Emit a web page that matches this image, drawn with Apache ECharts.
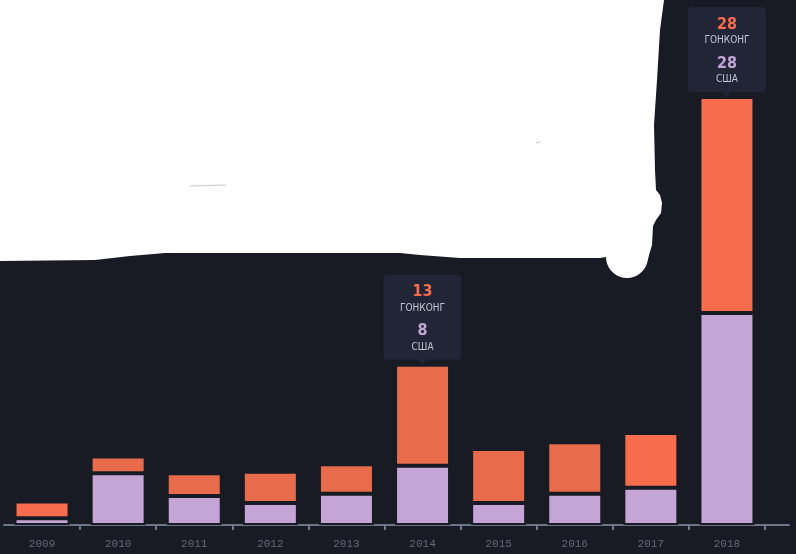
<!DOCTYPE html>
<html>
<head>
<meta charset="utf-8">
<script src="https://cdn.jsdelivr.net/npm/echarts@6/dist/echarts.min.js"></script>
<style>
html,body{margin:0;padding:0;background:#181b24;}
#c{width:796px;height:554px;}
</style>
</head>
<body>
<div id="c"></div>
<script>
// ---- data ----
const years = ['2009','2010','2011','2012','2013','2014','2015','2016','2017','2018'];
const usa = [0.9, 6.8, 3.8, 2.9, 4.1, 7.8, 2.9, 4.1, 4.9, 27.9];
const hongKong = [2.2, 2.2, 3.0, 4.1, 3.9, 13.3, 7.1, 6.8, 7.2, 28.4];
const seriesNames = ['США', 'ГОНКОНГ'];
const calloutIndexes = [5, 9];

// ---- styles ----
const BG = '#181b24';
const PURPLE = '#c5a5d6';
const ORANGE_BRIGHT = '#f76c4d';
const ORANGE_DARK = '#e86c4c';
const hkColor = [ORANGE_BRIGHT, ORANGE_DARK, ORANGE_DARK, ORANGE_DARK, ORANGE_DARK, ORANGE_DARK, ORANGE_DARK, ORANGE_DARK, ORANGE_BRIGHT, ORANGE_BRIGHT];
const AXIS = '#6d778c';
const NARROW = "'Liberation Sans Narrow', 'DejaVu Sans Condensed', 'Roboto', sans-serif";

// decorative white mask (not data)
function maskPoints() {
  const pts = [[0,0],[664,0],[660,30],[657,80],[654,125],[655,170],[656,190],[660,195],[662,203],[661,213],[656,220],[653,226],[652,245],[649,255]];
  const cx = 627, cy = 257, r = 21;
  for (let a = 10; a <= 180; a += 10) {
    const t = a * Math.PI / 180;
    pts.push([cx + r * Math.cos(t), cy + r * Math.sin(t)]);
  }
  pts.push([600,258],[460,258],[420,255],[400,253],[165,253],[130,256],[95,260],[0,261]);
  return pts;
}

const chart = echarts.init(document.getElementById('c'), null, {renderer: 'canvas'});

const calloutPath = 'path://M4,0 H74 Q78,0 78,4 V81 Q78,85 74,85 H43 L39,90 L35,85 H4 Q0,85 0,81 V4 Q0,0 4,0 Z';

chart.setOption({
  backgroundColor: BG,
  animation: false,
  grid: [
    {left: 4, width: 761, top: 69, bottom: 29},
    {left: 4, right: 7, top: 69, bottom: 29}
  ],
  xAxis: [
    {
      type: 'category', gridIndex: 0, data: years, offset: 3,
      axisLine: {show: false},
      axisTick: {show: true, length: 5, interval: (i) => i > 0, lineStyle: {color: AXIS, width: 2}},
      axisLabel: {color: '#636a7c', fontFamily: "'Liberation Mono', 'DejaVu Sans Mono', monospace", fontSize: 11, margin: 11}
    },
    {
      type: 'value', gridIndex: 1, offset: 3, min: 0, max: 1,
      axisLine: {show: true, lineStyle: {color: AXIS, width: 2}},
      axisTick: {show: false}, axisLabel: {show: false}, splitLine: {show: false}
    }
  ],
  yAxis: [
    {type: 'value', gridIndex: 0, min: 0, max: 60, show: false},
    {type: 'value', gridIndex: 1, show: false}
  ],
  series: [
    {
      name: seriesNames[0], type: 'bar', stack: 'total', barWidth: 55,
      data: usa,
      itemStyle: {color: PURPLE, borderColor: BG, borderWidth: 2}
    },
    {
      name: seriesNames[1], type: 'bar', stack: 'total', barWidth: 55,
      data: hongKong.map((v, i) => ({value: v, itemStyle: {color: hkColor[i]}})),
      itemStyle: {borderColor: BG, borderWidth: 2},
      markPoint: {
        silent: true,
        symbol: calloutPath,
        symbolSize: [78, 90],
        symbolOffset: [0, -45],
        itemStyle: {color: '#212536'},
        label: {
          show: true, position: 'inside', offset: [0, -1],
          rich: {
            hk: {color: ORANGE_BRIGHT, fontSize: 16, fontWeight: 'bold', fontFamily: NARROW, lineHeight: 18},
            us: {color: PURPLE, fontSize: 16, fontWeight: 'bold', fontFamily: NARROW, lineHeight: 18},
            name: {color: '#c3c6d3', fontSize: 10, fontFamily: NARROW, lineHeight: 14},
            gap: {fontSize: 1, lineHeight: 7}
          }
        },
        data: calloutIndexes.map(i => ({
          coord: [years[i], usa[i] + hongKong[i]],
          label: {formatter: '{hk|' + Math.round(hongKong[i]) + '}\n{name|' + seriesNames[1] + '}\n{gap| }\n{us|' + Math.round(usa[i]) + '}\n{name|' + seriesNames[0] + '}'}
        }))
      }
    }
  ],
  graphic: [
    {type: 'polygon', z: 100, shape: {points: maskPoints()}, style: {fill: '#ffffff'}},
    {type: 'line', z: 101, shape: {x1: 190, y1: 186, x2: 226, y2: 185}, style: {stroke: '#c8c8c8', lineWidth: 1}},
    {type: 'line', z: 101, shape: {x1: 536, y1: 143, x2: 540, y2: 142}, style: {stroke: '#c8c8c8', lineWidth: 1}}
  ]
});
</script>
</body>
</html>
